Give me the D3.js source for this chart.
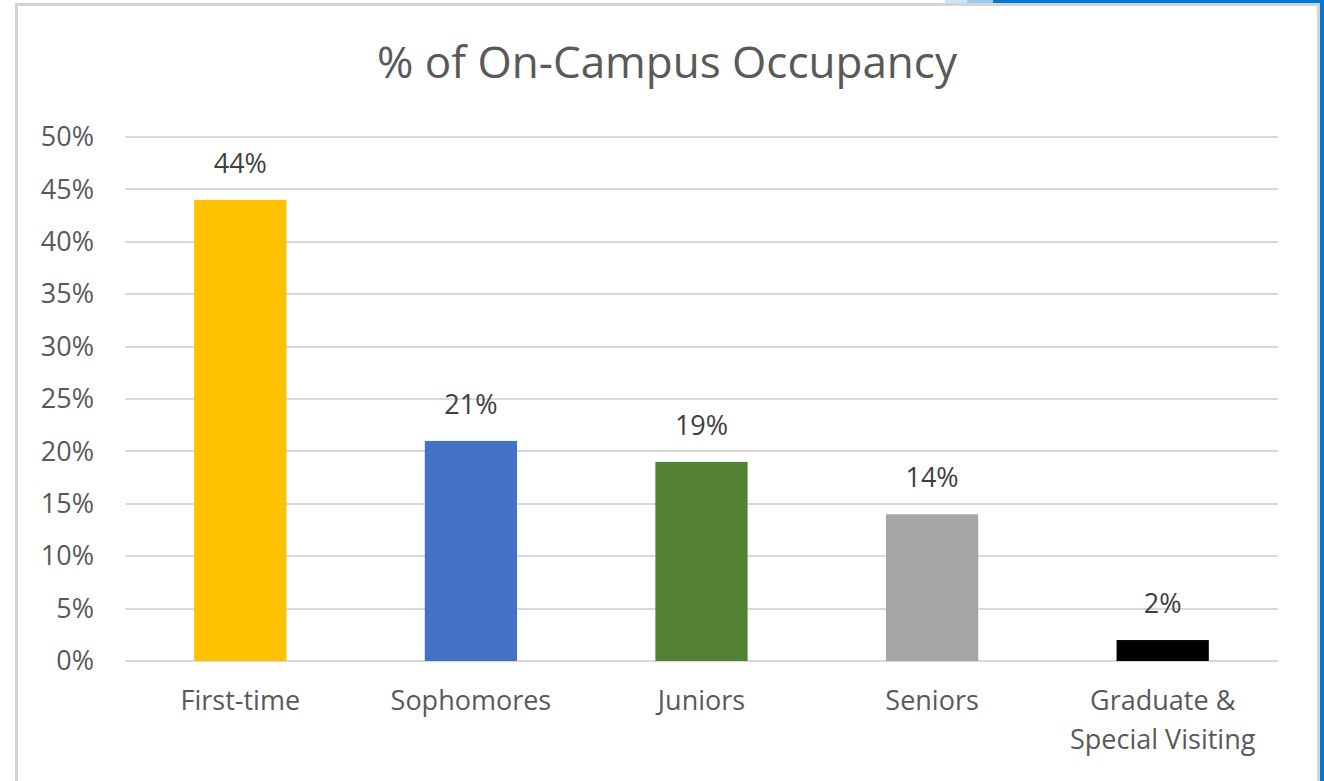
<!DOCTYPE html>
<html>
<head>
<meta charset="utf-8">
<script src="https://cdn.jsdelivr.net/npm/d3@7"></script>
<style>
  html, body { margin: 0; padding: 0; background: #fff; overflow: hidden; }
  svg { display: block; }
  text { font-family: "Open Sans", "Noto Sans", sans-serif; }
</style>
</head>
<body>
<svg id="chart" width="1324" height="781"></svg>
<script>
// chart data
var categories = ["First-time", "Sophomores", "Juniors", "Seniors", "Graduate & Special Visiting"];
var values = [0.44, 0.21, 0.19, 0.14, 0.02];
var barColors = ["#FFC000", "#4472C4", "#548235", "#A5A5A5", "#000000"];
var tickValues = [0, 0.05, 0.10, 0.15, 0.20, 0.25, 0.30, 0.35, 0.40, 0.45, 0.50];
var title = "% of On-Campus Occupancy";

var width = 1324,
    height = 781,
    plotLeft = 125,
    plotRight = 1278,
    plotTop = 137,
    plotBottom = 661,
    small_font = 27,
    title_font = 44;

var svg = d3.select("#chart");
var fmt = d3.format(".0%");

// window chrome around the chart box
svg.append("rect").attr("x", 945).attr("y", 0).attr("width", 22).attr("height", 3).attr("fill", "#cce4f7");
svg.append("rect").attr("x", 967).attr("y", 0).attr("width", 26).attr("height", 3).attr("fill", "#99c9ef");
svg.append("rect").attr("x", 993).attr("y", 0).attr("width", width - 993).attr("height", 3).attr("fill", "#0078d7");
svg.append("rect").attr("x", 1320).attr("y", 0).attr("width", 4).attr("height", height).attr("fill", "#0078d7");

// chart box border (no bottom edge visible)
svg.append("path")
    .attr("d", "M16.5," + height + "V4.5H1318.5V" + height)
    .attr("fill", "#fff")
    .attr("stroke", "#d4d4d4")
    .attr("stroke-width", 3);

var x = d3.scaleBand()
    .domain(categories)
    .range([plotLeft, plotRight])
    .paddingInner(0.6)
    .paddingOuter(0.3);

var y = d3.scaleLinear()
    .domain([0, 0.5])
    .range([plotBottom, plotTop]);

// gridlines
svg.append("g")
  .selectAll("line")
  .data(tickValues)
  .join("line")
    .attr("x1", plotLeft)
    .attr("x2", plotRight)
    .attr("y1", function(d) { return Math.round(y(d)); })
    .attr("y2", function(d) { return Math.round(y(d)); })
    .attr("stroke", "#d9d9d9")
    .attr("stroke-width", 2);

// y axis labels
var yAxis = d3.axisLeft(y)
    .tickValues(tickValues)
    .tickFormat(fmt)
    .tickSize(0)
    .tickPadding(31);

var gy = svg.append("g")
    .attr("transform", "translate(" + plotLeft + ",0)")
    .call(yAxis);
gy.select(".domain").remove();
gy.selectAll("text")
    .attr("font-family", "Open Sans, Noto Sans, sans-serif")
    .attr("font-size", small_font)
    .attr("fill", "#595959");

// bars
svg.append("g")
  .selectAll("rect")
  .data(values)
  .join("rect")
    .attr("x", function(d, i) { return x(categories[i]); })
    .attr("width", x.bandwidth())
    .attr("y", function(d) { return y(d); })
    .attr("height", function(d) { return y(0) - y(d); })
    .attr("fill", function(d, i) { return barColors[i]; });

// value labels
svg.append("g")
  .selectAll("text")
  .data(values)
  .join("text")
    .attr("x", function(d, i) { return x(categories[i]) + x.bandwidth() / 2; })
    .attr("y", function(d) { return y(d) - 27; })
    .attr("text-anchor", "middle")
    .attr("font-size", small_font)
    .attr("fill", "#404040")
    .text(function(d) { return fmt(d); });

// x axis labels, wrapped to the band
var xAxis = d3.axisBottom(x).tickSize(0).tickPadding(0);
var gx = svg.append("g")
    .attr("transform", "translate(0," + plotBottom + ")")
    .call(xAxis);
gx.select(".domain").remove();
gx.selectAll("text")
    .attr("font-family", "Open Sans, Noto Sans, sans-serif")
    .attr("font-size", small_font)
    .attr("fill", "#595959")
    .attr("dy", null)
    .attr("y", 49)
    .each(function(d) { wrap(d3.select(this), d, 215); });

function wrap(textSel, str, maxWidth) {
  var words = str.split(" "),
      line = [];
  textSel.text(null);
  var tspan = textSel.append("tspan").attr("x", 0).attr("dy", 0);
  words.forEach(function(w) {
    line.push(w);
    tspan.text(line.join(" "));
    if (tspan.node().getComputedTextLength() > maxWidth && line.length > 1) {
      line.pop();
      tspan.text(line.join(" "));
      line = [w];
      tspan = textSel.append("tspan").attr("x", 0).attr("dy", 39).text(w);
    }
  });
}

// title, centred on the chart box
svg.append("text")
    .attr("x", 667)
    .attr("y", 78)
    .attr("text-anchor", "middle")
    .attr("font-size", title_font)
    .attr("fill", "#595959")
    .text(title);
</script>
</body>
</html>
